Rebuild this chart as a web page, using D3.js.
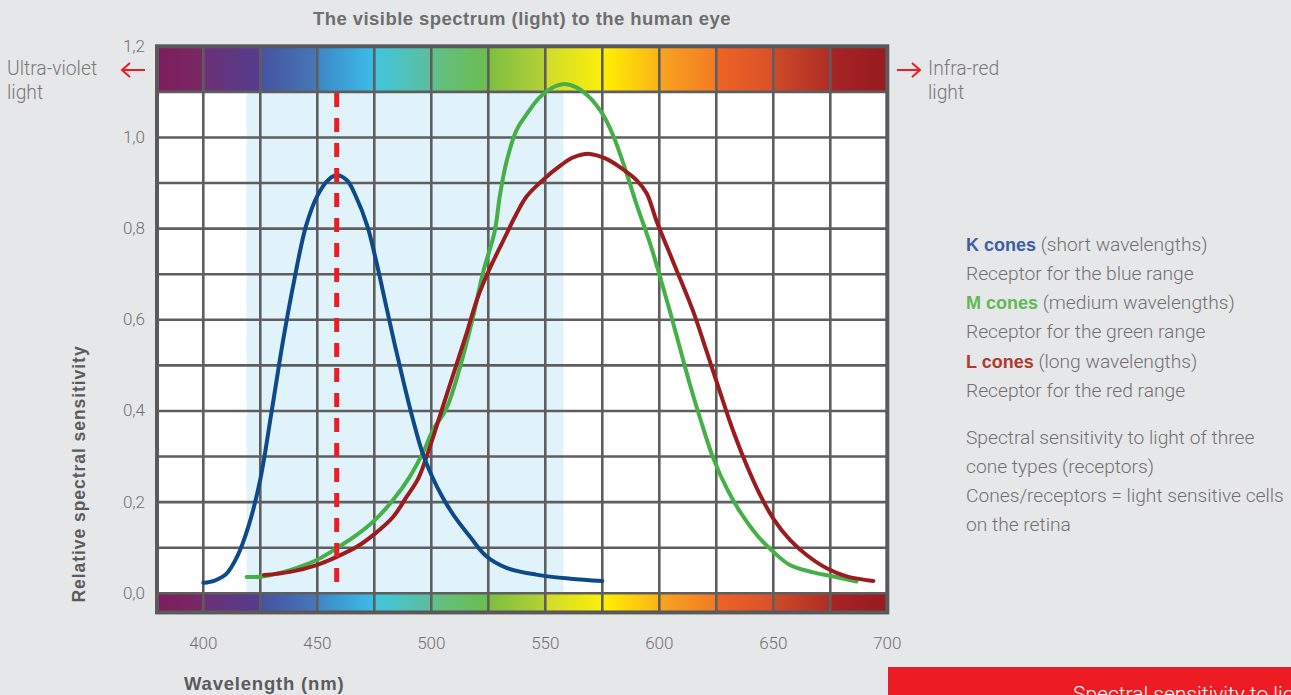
<!DOCTYPE html>
<html><head><meta charset="utf-8">
<script src="https://cdn.jsdelivr.net/npm/d3@7"></script>
<style>
body{margin:0;background:#e6e7e9;overflow:hidden}
svg{display:block}
</style>
</head><body>
<svg id="chart" width="1291" height="695"></svg>
<script>
// ---------- data ----------
const xTickValues = [400, 450, 500, 550, 600, 650, 700];
const yTickValues = [0, 0.2, 0.4, 0.6, 0.8, 1.0, 1.2];
const title = "The visible spectrum (light) to the human eye";
const xLabel = "Wavelength (nm)";
const yLabel = "Relative spectral sensitivity";

// K cones (short wavelengths) [nm, relative sensitivity]
const kCones = [[400,0.023],[405,0.028],[410,0.042],[415,0.082],[420,0.15],[425,0.25],[430,0.40],[435,0.555],[440,0.69],[445,0.805],[450,0.872],[455,0.908],[458.5,0.917],[463,0.906],[467,0.87],[472,0.805],[476,0.725],[480,0.635],[484,0.545],[488,0.46],[492,0.38],[496,0.31],[500,0.26],[505,0.21],[510,0.17],[517,0.124],[524,0.082],[533,0.056],[546,0.041],[561,0.032],[575,0.027]];
// M cones (medium wavelengths)
const mCones = [[419,0.036],[426,0.037],[438,0.051],[449.7,0.073],[458.5,0.099],[467.3,0.128],[475.3,0.161],[483.3,0.205],[490.6,0.256],[496.5,0.31],[500.7,0.358],[506.6,0.405],[512.4,0.493],[518.3,0.606],[522.7,0.704],[527.8,0.794],[530,0.87],[532.9,0.945],[537.3,1.015],[541.7,1.05],[547.5,1.088],[553.4,1.11],[557.7,1.117],[563.6,1.11],[569.4,1.088],[575.3,1.05],[579.7,1.005],[584.1,0.945],[589.9,0.855],[595.9,0.768],[600.3,0.695],[604.7,0.618],[609.1,0.537],[613.5,0.457],[617.9,0.384],[623.7,0.296],[629.6,0.23],[635.4,0.179],[642.8,0.128],[650,0.091],[657.3,0.062],[667.5,0.046],[676.3,0.037],[686.5,0.026]];
// L cones (long wavelengths)
const lCones = [[426.6,0.04],[438,0.047],[449.7,0.062],[458.5,0.08],[467.3,0.102],[475.3,0.131],[483.3,0.168],[489.2,0.212],[494.3,0.252],[499.3,0.32],[503.7,0.388],[509.5,0.478],[515.4,0.569],[520.5,0.651],[525.6,0.712],[531.4,0.772],[537.3,0.832],[541.7,0.87],[549,0.907],[556.3,0.937],[562.1,0.956],[569.4,0.964],[576.8,0.953],[584.1,0.93],[589.9,0.907],[594.5,0.877],[598.9,0.815],[606.1,0.727],[614.9,0.618],[620.8,0.53],[626.6,0.442],[632.5,0.355],[638.3,0.281],[644.2,0.216],[650,0.164],[657.3,0.117],[664.6,0.084],[673.4,0.055],[682.2,0.037],[693.9,0.027]];

const visibleRange = [419, 558];
const peakWavelength = 458.5;
const cellEdges = [379.7, 400, 425, 450, 475, 500, 525, 550, 575, 600, 625, 650, 675, 700];
const cellColors = [["#7d1d5c","#7a2866"],["#6c3075","#543d8f"],["#4752a0","#4678b8"],["#3e86c6","#3bbde9"],["#3fc6e0","#5dbd9c"],["#60c08a","#6bbd4c"],["#7bbf41","#b6d135"],["#cfdc2b","#fbee0a"],["#fff100","#fbb317"],["#f8a51f","#f37a23"],["#ee6424","#d9512a"],["#cf4b27","#ad2d26"],["#a82325","#961b20"]];
const legendLines = [
  [{t:"K cones", c:"k"}, {t:" (short wavelengths)"}],
  [{t:"Receptor for the blue range"}],
  [{t:"M cones", c:"m"}, {t:" (medium wavelengths)"}],
  [{t:"Receptor for the green range"}],
  [{t:"L cones", c:"l"}, {t:" (long wavelengths)"}],
  [{t:"Receptor for the red range"}]
];
const noteLines = ["Spectral sensitivity to light of three", "cone types (receptors)", "Cones/receptors = light sensitive cells", "on the retina"];
const footerText = "Spectral sensitivity to light";

// ---------- drawing ----------
const svg = d3.select("#chart");
const x = d3.scaleLinear().domain([400, 700]).range([203.3, 887.3]);
const y = d3.scaleLinear().domain([0, 1.2]).range([593.3, 46.3]);
const yBottom = -0.042, yTopBand = 1.1;
const gridColor = "#5e5e5e";
const textGray = "#6f7072";
const lightFont = "Roboto, 'Liberation Sans', sans-serif";
const boldFont = "'Liberation Sans', Arial, sans-serif";
const curveColors = {k:"#0e4a8a", m:"#45b048", l:"#9b1b1f"};
const legendColors = {k:"#3b5ea6", m:"#5fba55", l:"#b13a2c"};

const xL = x(cellEdges[0]), xR = x(700);

// plot background
svg.append("rect").attr("x", xL).attr("y", y(yTopBand)).attr("width", xR - xL)
  .attr("height", y(0) - y(yTopBand)).attr("fill", "#ffffff");
svg.append("rect").attr("x", x(visibleRange[0])).attr("y", y(yTopBand))
  .attr("width", x(visibleRange[1]) - x(visibleRange[0]))
  .attr("height", y(0) - y(yTopBand)).attr("fill", "#e0f2fa");

// spectrum bands
const defs = svg.append("defs");
cellColors.forEach((c, i) => {
  const g = defs.append("linearGradient").attr("id", "sp" + i).attr("x1", "0").attr("x2", "1").attr("y1", "0").attr("y2", "0");
  g.append("stop").attr("offset", "0").attr("stop-color", c[0]);
  g.append("stop").attr("offset", "1").attr("stop-color", c[1]);
});
[[1.2, yTopBand], [0, yBottom]].forEach(([top, bot]) => {
  svg.append("g").selectAll("rect").data(cellColors).join("rect")
    .attr("x", (d, i) => x(cellEdges[i]))
    .attr("width", (d, i) => x(cellEdges[i + 1]) - x(cellEdges[i]))
    .attr("y", y(top)).attr("height", y(bot) - y(top))
    .attr("fill", (d, i) => `url(#sp${i})`);
});

// grid
const vLines = cellEdges.slice(1, -1);
svg.append("g").selectAll("line").data(vLines).join("line")
  .attr("x1", d => x(d)).attr("x2", d => x(d))
  .attr("y1", y(1.2)).attr("y2", y(yBottom))
  .attr("stroke", gridColor).attr("stroke-width", 2.6);
const hLines = d3.range(0, 12).map(i => i / 10);
svg.append("g").selectAll("line").data(hLines).join("line")
  .attr("x1", xL).attr("x2", xR)
  .attr("y1", d => y(d)).attr("y2", d => y(d))
  .attr("stroke", gridColor).attr("stroke-width", 2.6);
svg.append("rect").attr("x", xL).attr("y", y(1.2)).attr("width", xR - xL)
  .attr("height", y(yBottom) - y(1.2)).attr("fill", "none")
  .attr("stroke", "#5a5a5a").attr("stroke-width", 4);

// curves
const line = d3.line().x(d => x(d[0])).y(d => y(d[1])).curve(d3.curveCatmullRom.alpha(0.5));
[["m", mCones], ["l", lCones], ["k", kCones]].forEach(([key, data]) => {
  svg.append("path").datum(data).attr("d", line).attr("fill", "none")
    .attr("stroke", curveColors[key]).attr("stroke-width", 4)
    .attr("stroke-linecap", "round").attr("stroke-linejoin", "round");
});

// peak dashed line
svg.append("line").attr("x1", x(peakWavelength)).attr("x2", x(peakWavelength))
  .attr("y1", y(yTopBand) + 1).attr("y2", y(0) - 2)
  .attr("stroke", "#ed1c24").attr("stroke-width", 5)
  .attr("stroke-dasharray", "14,11");

// axes tick labels
const fmt = d => d3.format(".1f")(d).replace(".", ",");
svg.append("g").selectAll("text").data(yTickValues).join("text")
  .attr("x", 145).attr("y", d => y(d) - 0.5).attr("dy", "0.35em")
  .attr("text-anchor", "end").attr("font-family", lightFont).attr("font-weight", 300)
  .attr("font-size", 17).attr("fill", textGray).text(fmt);
svg.append("g").selectAll("text").data(xTickValues).join("text")
  .attr("x", d => x(d)).attr("y", 643).attr("dy", "0.35em")
  .attr("text-anchor", "middle").attr("font-family", lightFont).attr("font-weight", 300)
  .attr("font-size", 17).attr("fill", textGray).text(d => d);

// titles
svg.append("text").attr("x", 522).attr("y", 25).attr("text-anchor", "middle")
  .attr("font-family", boldFont).attr("font-weight", 700).attr("font-size", 18.5)
  .attr("letter-spacing", 0.45).attr("fill", "#6d6e70").text(title);
svg.append("text").attr("x", 184).attr("y", 690)
  .attr("font-family", boldFont).attr("font-weight", 700).attr("font-size", 18.5)
  .attr("letter-spacing", 0.8).attr("fill", "#5a5b5d").text(xLabel);
svg.append("text").attr("transform", `translate(85,474) rotate(-90)`).attr("text-anchor", "middle")
  .attr("font-family", boldFont).attr("font-weight", 700).attr("font-size", 17.5)
  .attr("letter-spacing", 0.95).attr("fill", "#5a5b5d").text(yLabel);

// UV / IR labels and arrows
const sideText = (tx, lines) => {
  const t = svg.append("text").attr("font-family", lightFont).attr("font-weight", 300)
    .attr("font-size", 19.3).attr("fill", "#77787a");
  lines.forEach((s, i) => t.append("tspan").attr("x", tx).attr("y", 75 + i * 23.5).text(s));
};
sideText(7, ["Ultra-violet", "light"]);
sideText(928, ["Infra-red", "light"]);
const arrow = (x1, x2) => {
  const dir = Math.sign(x2 - x1);
  svg.append("path").attr("d", `M${x1},70 L${x2},70 M${x2 - dir * 8},63 L${x2},70 L${x2 - dir * 8},77`)
    .attr("fill", "none").attr("stroke", "#ed1c24").attr("stroke-width", 2);
};
arrow(145, 122);
arrow(897, 920);

// legend
const lg = svg.append("g").attr("font-family", lightFont).attr("font-size", 19.2).attr("fill", textGray);
legendLines.forEach((parts, i) => {
  const t = lg.append("text").attr("x", 966).attr("y", 250.5 + i * 29.3);
  parts.forEach(p => {
    const ts = t.append("tspan").text(p.t);
    if (p.c) ts.attr("font-family", boldFont).attr("font-weight", 700).attr("font-size", 18).attr("fill", legendColors[p.c]);
    else ts.attr("font-weight", 300);
  });
});
noteLines.forEach((s, i) => {
  lg.append("text").attr("x", 966).attr("y", 443.5 + i * 29.3).attr("font-weight", 300).text(s);
});

// red footer box
svg.append("rect").attr("x", 888).attr("y", 667).attr("width", 420).attr("height", 40).attr("fill", "#ed1c24");
svg.append("text").attr("x", 1073).attr("y", 701).attr("font-family", lightFont).attr("font-weight", 300)
  .attr("font-size", 21).attr("fill", "#ffffff").text(footerText);
</script>
</body></html>
